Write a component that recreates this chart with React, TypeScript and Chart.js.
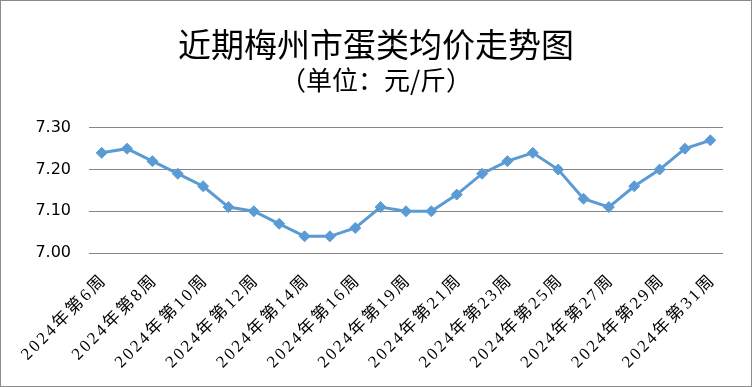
import React, { useEffect, useRef } from "react";
import { Chart, registerables } from "chart.js";

Chart.register(...registerables);

const titleText = "近期梅州市蛋类均价走势图";
const subtitleText = "（单位：元/斤）";
const weeks = [6, 7, 8, 9, 10, 11, 12, 13, 14, 15, 16, 17, 19, 20, 21, 22, 23, 24, 25, 26, 27, 28, 29, 30, 31];
const categories = weeks.map((w) => `2024年第${w}周`);
const prices = [
  7.24, 7.25, 7.22, 7.19, 7.16, 7.11, 7.1, 7.07, 7.04, 7.04, 7.06, 7.11, 7.1,
  7.1, 7.14, 7.19, 7.22, 7.24, 7.2, 7.13, 7.11, 7.16, 7.2, 7.25, 7.27,
];
const yMin = 7.0;
const yMax = 7.3;
const yStep = 0.1;

// x labels are drawn after the datasets (ticks.z = 1); widen their letter spacing only
const spacingPlugin = {
  id: "letterSpacing",
  beforeDraw(chart: any) {
    (chart.ctx as any).letterSpacing = "0px";
  },
  afterDatasetsDraw(chart: any) {
    (chart.ctx as any).letterSpacing = "2.5px";
  },
  afterDraw(chart: any) {
    (chart.ctx as any).letterSpacing = "0px";
  },
};

export default function App() {
  const ref = useRef<HTMLCanvasElement | null>(null);

  useEffect(() => {
    document.body.style.margin = "0";
    const canvas = ref.current;
    if (!canvas) return;
    const chart = new Chart(canvas, {
      type: "line",
      data: {
        labels: categories,
        datasets: [
          {
            data: prices,
            borderColor: "#5b9bd5",
            backgroundColor: "#5b9bd5",
            borderWidth: 3,
            pointStyle: "rectRot",
            pointRadius: 5.5,
            pointHoverRadius: 5.5,
            pointBackgroundColor: "#5b9bd5",
            pointBorderColor: "#5b9bd5",
            pointBorderWidth: 1,
            tension: 0,
            fill: false,
          },
        ],
      },
      plugins: [spacingPlugin],
      options: {
        animation: false,
        responsive: false,
        devicePixelRatio: 1,
        layout: { padding: { top: 8, left: 28, right: 28, bottom: 0 } },
        plugins: {
          legend: { display: false },
          tooltip: { enabled: false },
          title: {
            display: true,
            text: titleText,
            color: "#000000",
            font: { family: "'Noto Sans CJK SC'", size: 33, weight: "normal", lineHeight: 1.2 },
            padding: { top: 16, bottom: 0 },
          },
          subtitle: {
            display: true,
            text: subtitleText,
            color: "#000000",
            font: { family: "'Noto Sans CJK SC'", size: 26, weight: "normal", lineHeight: 1.2 },
            padding: { top: 0, bottom: 32 },
          },
        },
        scales: {
          x: {
            offset: true,
            grid: { display: false, drawTicks: false },
            border: { display: false },
            afterFit: (s: any) => {
              s.height = 133;
            },
            ticks: {
              z: 1,
              autoSkip: false,
              maxRotation: 45,
              minRotation: 45,
              padding: 17,
              labelOffset: 3,
              color: "#000000",
              font: { family: "'Liberation Serif', 'Noto Sans CJK SC'", size: 17 },
              callback: function (this: any, _v: any, i: number) {
                return i % 2 === 0 ? categories[i] : "";
              },
            },
          },
          y: {
            min: yMin,
            max: yMax,
            grid: { color: "#868686", lineWidth: 1, drawTicks: false },
            border: { display: false },
            afterFit: (s: any) => {
              s.width = 60;
            },
            ticks: {
              stepSize: yStep,
              padding: 18,
              color: "#000000",
              font: { family: "'DejaVu Sans'", size: 16 },
              callback: (v: any) => Number(v).toFixed(2),
            },
          },
        },
      },
    });
    return () => chart.destroy();
  }, []);

  return (
    <div
      style={{
        width: 752,
        height: 387,
        boxSizing: "border-box",
        border: "1px solid #8a8a8a",
        background: "#ffffff",
      }}
    >
      <canvas ref={ref} width={750} height={385} style={{ display: "block" }} />
    </div>
  );
}
